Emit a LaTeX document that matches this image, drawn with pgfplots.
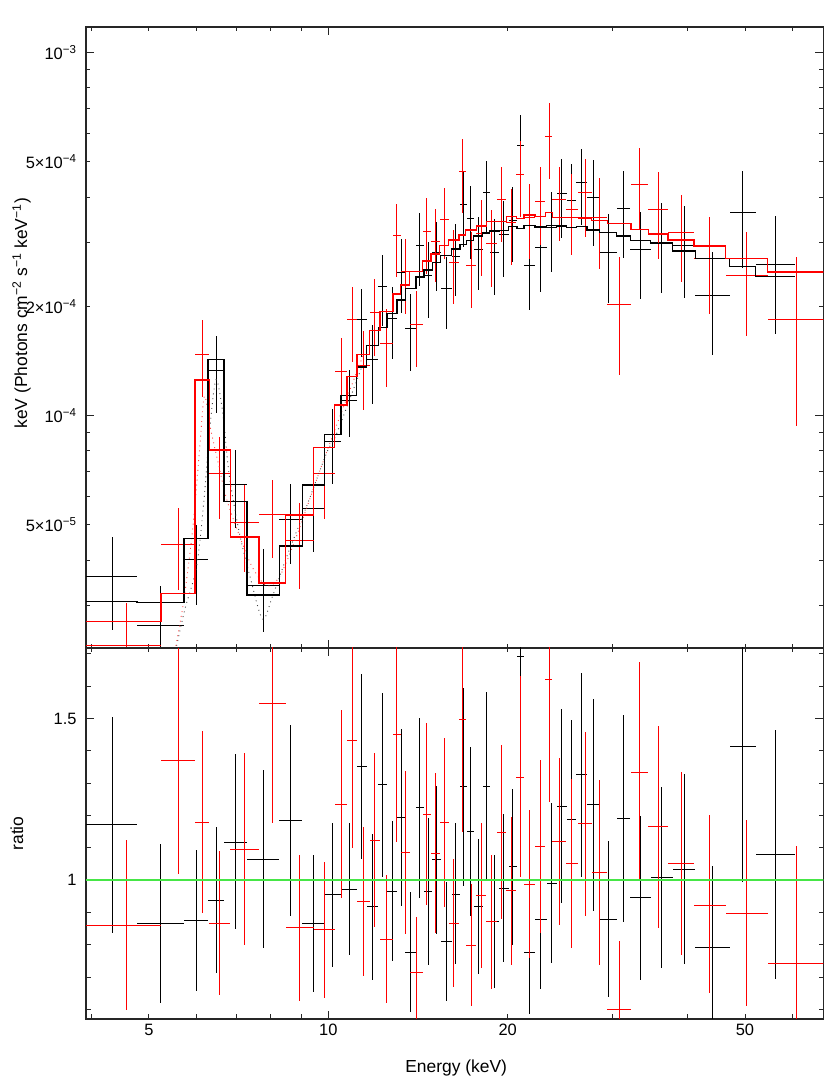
\documentclass[border=0pt]{standalone}
\usepackage{fontspec}
\setmainfont{Liberation Sans}
\usepackage{pgfplots}
\usepackage{pgfplotstable}
\pgfplotsset{compat=1.18}
\definecolor{ratiogreen}{RGB}{70,230,70}

% black data: centre, bin edges, ratio (with 1-sigma range), folded model in bin
\pgfplotstableread{
x xlo xhi r rlo rhi m
4.344 3.90 4.773 1.173 0.837 1.506 3.070e-5
5.235 4.773 5.727 0.865 0.621 1.111 3.058e-5
5.999 5.727 6.286 0.876 0.657 1.093 4.585e-5
6.482 6.286 6.688 0.937 0.712 1.165 1.425e-4
6.985 6.688 7.301 1.118 0.848 1.389 5.793e-5
7.773 7.301 8.276 1.064 0.790 1.340 3.209e-5
8.653 8.276 9.045 1.185 0.890 1.480 4.375e-5
9.437 9.045 9.847 0.865 0.653 1.077 6.435e-5
10.16 9.847 10.50 0.956 0.732 1.177 8.867e-5
10.83 10.50 11.16 0.971 0.768 1.175 1.137e-4
11.38 11.16 11.60 1.351 1.064 1.638 1.361e-4
11.87 11.60 12.13 0.917 0.691 1.141 1.557e-4
12.33 12.13 12.54 1.295 1.008 1.580 1.751e-4
12.79 12.54 13.04 0.966 0.748 1.182 1.912e-4
13.26 13.04 13.47 1.193 0.920 1.468 2.083e-4
13.75 13.47 14.03 0.777 0.592 0.962 2.240e-4
14.24 14.03 14.47 1.224 0.943 1.502 2.409e-4
14.70 14.47 14.94 0.966 0.736 1.192 2.518e-4
15.18 14.94 15.44 1.064 0.833 1.292 2.644e-4
15.77 15.44 16.11 0.811 0.627 0.993 2.760e-4
16.36 16.11 16.63 0.957 0.740 1.175 2.876e-4
16.84 16.63 17.07 1.290 0.982 1.594 2.959e-4
17.30 17.07 17.53 1.150 0.889 1.411 3.035e-4
17.84 17.53 18.16 0.920 0.709 1.126 3.123e-4
18.41 18.16 18.65 1.290 0.998 1.583 3.183e-4
18.99 18.65 19.33 0.871 0.665 1.077 3.224e-4
19.70 19.33 20.07 0.974 0.745 1.204 3.234e-4
20.40 20.07 20.72 1.041 0.800 1.283 3.317e-4
21.01 20.72 21.30 1.692 1.390 2.050 3.275e-4
21.76 21.30 22.22 0.776 0.586 0.967 3.338e-4
22.72 22.22 23.23 0.878 0.664 1.090 3.306e-4
23.70 23.23 24.16 0.989 0.743 1.237 3.338e-4
24.63 24.16 25.11 1.229 0.928 1.530 3.327e-4
25.59 25.11 26.07 1.187 0.894 1.494 3.291e-4
26.61 26.07 27.16 1.326 1.010 1.641 3.312e-4
27.81 27.16 28.48 1.233 0.905 1.561 3.243e-4
29.45 28.48 30.46 0.879 0.638 1.120 3.197e-4
31.27 30.46 32.10 1.190 0.869 1.511 3.123e-4
33.40 32.10 34.75 0.946 0.691 1.199 3.031e-4
36.25 34.75 37.81 1.008 0.729 1.288 2.982e-4
39.51 37.81 41.29 1.034 0.741 1.327 2.840e-4
44.11 41.29 47.12 0.792 0.544 1.042 2.704e-4
49.55 47.12 52.10 1.413 0.993 1.833 2.571e-4
56.21 52.10 60.65 1.079 0.693 1.465 2.414e-4
}\blackdata

\pgfplotstableread{
x xlo xhi r rlo rhi m
4.578 3.90 5.240 0.860 0.599 1.123 2.705e-5
5.597 5.240 5.977 1.369 1.020 1.717 3.237e-5
6.145 5.977 6.318 1.178 0.897 1.460 1.253e-4
6.577 6.318 6.850 0.866 0.645 1.090 8.029e-5
7.240 6.850 7.653 1.096 0.799 1.393 4.632e-5
8.057 7.653 8.482 1.548 1.175 1.920 3.455e-5
8.955 8.482 9.452 0.853 0.625 1.079 5.322e-5
9.844 9.452 10.25 0.847 0.635 1.057 8.182e-5
10.50 10.25 10.75 1.233 0.943 1.525 1.070e-4
10.96 10.75 11.17 1.432 1.098 1.764 1.282e-4
11.45 11.17 11.73 0.935 0.704 1.165 1.471e-4
11.97 11.73 12.21 1.123 0.854 1.393 1.712e-4
12.53 12.21 12.84 0.817 0.619 1.015 1.934e-4
13.02 12.84 13.22 1.450 1.118 1.775 2.159e-4
13.45 13.22 13.69 1.086 0.832 1.337 2.291e-4
14.04 13.69 14.40 0.715 0.545 0.887 2.491e-4
14.62 14.40 14.86 1.204 0.923 1.486 2.666e-4
15.11 14.86 15.37 1.082 0.835 1.331 2.787e-4
15.64 15.37 15.92 1.179 0.918 1.440 2.937e-4
16.24 15.92 16.58 0.866 0.668 1.064 3.045e-4
16.79 16.58 17.00 1.496 1.149 1.836 3.143e-4
17.35 17.00 17.71 0.799 0.609 0.987 3.243e-4
18.06 17.71 18.41 0.953 0.727 1.177 3.327e-4
18.81 18.41 19.22 0.871 0.663 1.077 3.419e-4
19.55 19.22 19.89 1.149 0.879 1.419 3.419e-4
20.28 19.89 20.68 0.967 0.738 1.196 3.528e-4
20.99 20.68 21.30 1.319 1.010 1.630 3.493e-4
21.76 21.30 22.22 0.988 0.758 1.218 3.567e-4
22.67 22.22 23.13 1.103 0.837 1.372 3.528e-4
23.45 23.13 23.77 1.622 1.242 2.000 3.619e-4
24.37 23.77 25.00 1.119 0.861 1.378 3.515e-4
25.62 25.00 26.26 1.051 0.789 1.314 3.515e-4
26.96 26.26 27.67 1.175 0.889 1.458 3.499e-4
28.52 27.67 29.40 1.024 0.738 1.309 3.440e-4
30.77 29.40 32.19 0.599 0.382 0.812 3.375e-4
33.29 32.19 34.43 1.332 0.999 1.676 3.258e-4
35.76 34.43 37.17 1.166 0.851 1.478 3.162e-4
39.06 37.17 41.06 1.051 0.768 1.334 3.045e-4
43.66 41.06 46.41 0.923 0.650 1.200 2.931e-4
50.34 46.41 54.60 0.897 0.611 1.185 2.705e-4
61.08 54.60 68.35 0.743 0.378 1.104 2.482e-4
}\reddata

\pgfplotstableread{
x m
3.90 3.070e-5
4.773 3.058e-5
5.727 4.585e-5
6.286 1.425e-4
6.688 5.793e-5
7.301 3.209e-5
8.276 4.375e-5
9.045 6.435e-5
9.847 8.867e-5
10.50 1.137e-4
11.16 1.361e-4
11.60 1.557e-4
12.13 1.751e-4
12.54 1.912e-4
13.04 2.083e-4
13.47 2.240e-4
14.03 2.409e-4
14.47 2.518e-4
14.94 2.644e-4
15.44 2.760e-4
16.11 2.876e-4
16.63 2.959e-4
17.07 3.035e-4
17.53 3.123e-4
18.16 3.183e-4
18.65 3.224e-4
19.33 3.234e-4
20.07 3.317e-4
20.72 3.275e-4
21.30 3.338e-4
22.22 3.306e-4
23.23 3.338e-4
24.16 3.327e-4
25.11 3.291e-4
26.07 3.312e-4
27.16 3.243e-4
28.48 3.197e-4
30.46 3.123e-4
32.10 3.031e-4
34.75 2.982e-4
37.81 2.840e-4
41.29 2.704e-4
47.12 2.571e-4
52.10 2.414e-4
60.65 2.414e-4
}\blackmodel

\pgfplotstableread{
x m
3.90 2.705e-5
5.240 3.237e-5
5.977 1.253e-4
6.318 8.029e-5
6.850 4.632e-5
7.653 3.455e-5
8.482 5.322e-5
9.452 8.182e-5
10.25 1.070e-4
10.75 1.282e-4
11.17 1.471e-4
11.73 1.712e-4
12.21 1.934e-4
12.84 2.159e-4
13.22 2.291e-4
13.69 2.491e-4
14.40 2.666e-4
14.86 2.787e-4
15.37 2.937e-4
15.92 3.045e-4
16.58 3.143e-4
17.00 3.243e-4
17.71 3.327e-4
18.41 3.419e-4
19.22 3.419e-4
19.89 3.528e-4
20.68 3.493e-4
21.30 3.567e-4
22.22 3.528e-4
23.13 3.619e-4
23.77 3.515e-4
25.00 3.515e-4
26.26 3.499e-4
27.67 3.440e-4
29.40 3.375e-4
32.19 3.258e-4
34.43 3.162e-4
37.17 3.045e-4
41.06 2.931e-4
46.41 2.705e-4
54.60 2.482e-4
68.35 2.482e-4
}\redmodel

\pgfplotstableread{
x m
5.566 2.323e-5
5.748 2.931e-5
6.015 3.855e-5
6.188 5.877e-5
6.333 9.346e-5
6.483 1.256e-4
6.652 1.017e-4
6.824 6.811e-5
7.092 4.761e-5
7.410 3.544e-5
7.761 2.752e-5
8.066 3.188e-5
8.568 4.196e-5
9.200 5.634e-5
9.938 7.898e-5
10.34 8.964e-5
11.38 1.361e-4
}\blackdot

\pgfplotstableread{
x m
5.551 2.323e-5
5.727 3.122e-5
5.922 4.862e-5
6.077 7.898e-5
6.196 1.130e-4
6.333 9.346e-5
6.516 7.570e-5
6.756 5.877e-5
7.064 4.761e-5
7.439 3.855e-5
7.882 3.396e-5
8.297 3.619e-5
8.849 4.660e-5
9.562 6.672e-5
10.26 9.153e-5
11.45 1.471e-4
}\reddot

\begin{document}
\begin{tikzpicture}
\useasboundingbox (0,0) rectangle (830bp,1086bp);

% ---------------- top panel ----------------
\begin{axis}[
  scale only axis, width=737.3bp, height=621bp,
  at={(86bp,438bp)}, anchor=south west,
  xmode=log, ymode=log,
  xmin=3.923, xmax=67.67, ymin=2.29e-5, ymax=1.175e-3,
  axis line style={line width=1.1bp, black!85},
  tick style={line width=0.8bp, black!85},
  tick align=inside,
  major tick length=8bp, minor tick length=4.5bp,
  xtick={10}, minor xtick={4,5,6,7,8,9,20,30,40,50,60},
  xticklabels={},
  ytick={1e-4,1e-3},
  yticklabels={10\textsuperscript{−4},10\textsuperscript{−3}},
  minor ytick={3e-5,4e-5,5e-5,6e-5,7e-5,8e-5,9e-5,2e-4,3e-4,4e-4,5e-4,6e-4,7e-4,8e-4,9e-4},
  extra y ticks={5e-5,2e-4,5e-4},
  extra y tick labels={5×10\textsuperscript{−5},2×10\textsuperscript{−4},5×10\textsuperscript{−4}},
  extra y tick style={major tick length=4.5bp},
  tick label style={font=\fontsize{16.5}{19}\selectfont},
  yticklabel style={xshift=-6bp},
  ylabel={keV (Photons cm\textsuperscript{−2} s\textsuperscript{−1} keV\textsuperscript{−1})},
  ylabel style={font=\fontsize{17.5}{20}\selectfont, at={(axis description cs:-0.0875,0.539)}, anchor=center},
]
\addplot[draw=none, mark=none, forget plot,
  error bars/.cd, x dir=both, x explicit, y dir=both, y explicit,
  error mark=none, error bar style={draw=black, line width=0.75bp}]
  table[x=x, y expr=\thisrow{r}*\thisrow{m},
  x error minus expr=\thisrow{x}-\thisrow{xlo}, x error plus expr=\thisrow{xhi}-\thisrow{x},
  y error minus expr=(\thisrow{r}-\thisrow{rlo})*\thisrow{m},
  y error plus expr=(\thisrow{rhi}-\thisrow{r})*\thisrow{m}] {\blackdata};
\addplot[draw=none, mark=none, forget plot,
  error bars/.cd, x dir=both, x explicit, y dir=both, y explicit,
  error mark=none, error bar style={draw=red, line width=0.75bp}]
  table[x=x, y expr=\thisrow{r}*\thisrow{m},
  x error minus expr=\thisrow{x}-\thisrow{xlo}, x error plus expr=\thisrow{xhi}-\thisrow{x},
  y error minus expr=(\thisrow{r}-\thisrow{rlo})*\thisrow{m},
  y error plus expr=(\thisrow{rhi}-\thisrow{r})*\thisrow{m}] {\reddata};
\addplot[black!75, dash pattern=on 0.9bp off 4bp, line width=0.9bp, smooth] table[x=x, y=m] {\blackdot};
\addplot[red!75, dash pattern=on 0.9bp off 4bp, line width=0.9bp, smooth] table[x=x, y=m] {\reddot};
\addplot[black, const plot, line width=1.4bp] table[x=x, y=m] {\blackmodel};
\addplot[red, const plot, line width=1.4bp] table[x=x, y=m] {\redmodel};
\end{axis}

% ---------------- ratio panel ----------------
\begin{axis}[
  scale only axis, width=737.3bp, height=371bp,
  at={(86bp,67bp)}, anchor=south west,
  xmode=log,
  xmin=3.923, xmax=67.67, ymin=0.570, ymax=1.718,
  axis line style={line width=1.1bp, black!85},
  tick style={line width=0.8bp, black!85},
  tick align=inside,
  major tick length=8bp, minor tick length=4.5bp,
  xtick={10}, minor xtick={4,5,6,7,8,9,20,30,40,50,60},
  xticklabels={10},
  extra x ticks={5,20,50}, extra x tick labels={5,20,50},
  extra x tick style={major tick length=4.5bp},
  ytick={1,1.5}, yticklabels={1,1.5},
  minor ytick={0.6,0.7,0.8,0.9,1.1,1.2,1.3,1.4,1.6,1.7},
  tick label style={font=\fontsize{16.5}{19}\selectfont},
  yticklabel style={xshift=-6bp},
  xticklabel style={yshift=-2bp},
  xlabel={Energy (keV)},
  xlabel style={font=\fontsize{17.5}{20}\selectfont, at={(axis description cs:0.502,-0.132)}, anchor=center},
  ylabel={ratio},
  ylabel style={font=\fontsize{17.5}{20}\selectfont, at={(axis description cs:-0.0936,0.5)}, anchor=center},
]
\addplot[draw=none, mark=none, forget plot,
  error bars/.cd, x dir=both, x explicit, y dir=both, y explicit,
  error mark=none, error bar style={draw=black, line width=0.75bp}]
  table[x=x, y=r,
  x error minus expr=\thisrow{x}-\thisrow{xlo}, x error plus expr=\thisrow{xhi}-\thisrow{x},
  y error minus expr=\thisrow{r}-\thisrow{rlo}, y error plus expr=\thisrow{rhi}-\thisrow{r}] {\blackdata};
\addplot[draw=none, mark=none, forget plot,
  error bars/.cd, x dir=both, x explicit, y dir=both, y explicit,
  error mark=none, error bar style={draw=red, line width=0.75bp}]
  table[x=x, y=r,
  x error minus expr=\thisrow{x}-\thisrow{xlo}, x error plus expr=\thisrow{xhi}-\thisrow{x},
  y error minus expr=\thisrow{r}-\thisrow{rlo}, y error plus expr=\thisrow{rhi}-\thisrow{r}] {\reddata};
\addplot[ratiogreen, line width=1.6bp] coordinates {(3.5,1) (75,1)};
\end{axis}
\end{tikzpicture}
\end{document}
